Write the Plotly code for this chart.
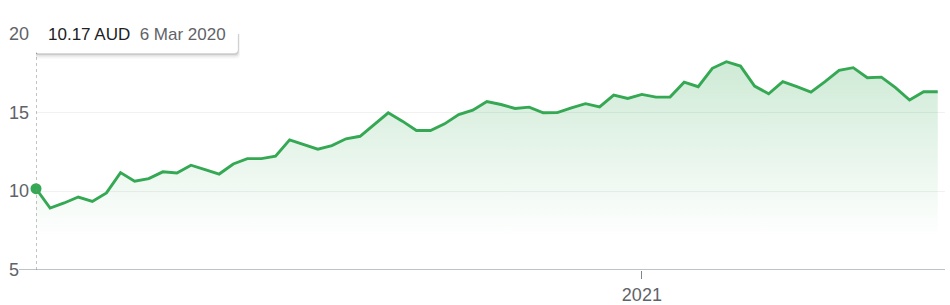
import pandas as pd
import plotly.graph_objects as go

# ---- data ----
dates = pd.date_range("2020-03-06", periods=65, freq="7D")
prices = [
    10.17, 8.94, 9.26, 9.64, 9.36, 9.90, 11.19, 10.64, 10.81, 11.24,
    11.17, 11.66, 11.38, 11.10, 11.74, 12.08, 12.08, 12.23, 13.27, 12.97,
    12.68, 12.91, 13.34, 13.50, 14.25, 14.99, 14.46, 13.87, 13.87, 14.29,
    14.88, 15.16, 15.71, 15.52, 15.27, 15.35, 14.99, 15.00, 15.31, 15.57,
    15.37, 16.11, 15.90, 16.16, 15.99, 15.99, 16.94, 16.65, 17.82, 18.24,
    17.96, 16.69, 16.20, 16.97, 16.65, 16.31, 16.97, 17.69, 17.86, 17.22,
    17.26, 16.59, 15.80, 16.33, 16.33,
]
y_ticks = [5, 10, 15, 20]
y_tick_labels = ["5", "10", "15", "20"]
x_tick_vals = ["2021-01-01"]
x_tick_labels = ["2021"]
currency = "AUD"

GREEN = "#34a853"
FONT = "Liberation Sans, Arial, sans-serif"


def rounded_rect(x0, y0, x1, y1, r):
    return (f"M {x0+r},{y0} L {x1-r},{y0} Q {x1},{y0} {x1},{y0+r} "
            f"L {x1},{y1-r} Q {x1},{y1} {x1-r},{y1} L {x0+r},{y1} "
            f"Q {x0},{y1} {x0},{y1-r} L {x0},{y0+r} Q {x0},{y0} {x0+r},{y0} Z")


fig = go.Figure()

fig.add_trace(go.Scatter(
    x=dates, y=prices, mode="lines",
    line=dict(color=GREEN, width=2.9),
    fill="tozeroy",
    fillgradient=dict(
        type="vertical",
        colorscale=[[0, "rgba(52,168,83,0)"], [1, "rgba(52,168,83,0.24)"]],
        start=7, stop=max(prices),
    ),
    hoverinfo="skip",
))
fig.add_trace(go.Scatter(
    x=[dates[0]], y=[prices[0]], mode="markers",
    marker=dict(color=GREEN, size=11),
    cliponaxis=False,
    hoverinfo="skip",
))

# dotted crosshair at selected point
fig.add_shape(type="line", xref="x", yref="y",
              x0=dates[0], x1=dates[0], y0=y_ticks[0], y1=y_ticks[-1],
              line=dict(color="#888888", width=1, dash="dot"), layer="above")

# bottom axis line (extends toward the "5" label)
fig.add_shape(type="line", xref="paper", yref="y",
              x0=-0.0187, x1=1, y0=y_ticks[0], y1=y_ticks[0],
              line=dict(color="#80868b", width=1), layer="above")

# left-aligned y labels
for v, t in zip(y_ticks, y_tick_labels):
    fig.add_annotation(x=-0.0308, xref="paper", y=v, yref="y",
                       text=t, showarrow=False, xanchor="left", yanchor="middle",
                       borderpad=0,
                       font=dict(family=FONT, size=18, color="#5f6368"))

# tooltip box (pixel-sized shapes anchored at the selected point / top gridline)
d0 = dates[0]
BW, BH = 203, 39
for dy, grow, alpha in [(-3, 2, 0.04), (-2, 1, 0.07), (-1, 0.5, 0.10)]:
    fig.add_shape(type="path", xref="x", yref="y",
                  xsizemode="pixel", ysizemode="pixel",
                  xanchor=d0, yanchor=y_ticks[-1],
                  path=rounded_rect(-1 - grow, -BH / 2 + dy - grow,
                                    -1 + BW + grow, BH / 2 + dy + grow, 4),
                  fillcolor=f"rgba(0,0,0,{alpha})", line=dict(width=0),
                  layer="above")
fig.add_shape(type="path", xref="x", yref="y",
              xsizemode="pixel", ysizemode="pixel",
              xanchor=d0, yanchor=y_ticks[-1],
              path=rounded_rect(-1, -BH / 2, -1 + BW, BH / 2, 4),
              fillcolor="white", line=dict(color="rgba(0,0,0,0.05)", width=1),
              layer="above")

tip = (f"<span style='color:#202124'>{prices[0]:.2f} {currency}</span>"
       f"&nbsp;&nbsp;<span style='color:#5f6368'>{d0.day} {d0.strftime('%b %Y')}</span>")
fig.add_annotation(x=d0, xref="x", y=y_ticks[-1], yref="y",
                   text=tip, showarrow=False, xanchor="left", yanchor="middle",
                   xshift=11, borderpad=0,
                   font=dict(family=FONT, size=17, color="#202124"))

fig.update_layout(
    width=950, height=305,
    margin=dict(l=36, r=5, t=34, b=35),
    paper_bgcolor="white", plot_bgcolor="white",
    showlegend=False, hovermode=False,
    font=dict(family=FONT, size=18, color="#5f6368"),
    xaxis=dict(
        range=[dates[0], dates[-1] + pd.Timedelta(days=3.6)],
        tickvals=x_tick_vals, ticktext=x_tick_labels,
        ticks="outside", ticklen=8, tickcolor="#80868b", tickwidth=1,
        showgrid=False, zeroline=False, showline=False, automargin=False,
        tickfont=dict(family=FONT, size=18, color="#5f6368"),
    ),
    yaxis=dict(
        range=[y_ticks[0], y_ticks[-1]],
        tickvals=y_ticks, showticklabels=False, automargin=False,
        showgrid=True, gridcolor="#f1f1f1", gridwidth=1,
        zeroline=False, showline=False,
    ),
)

fig.write_html("out.html")
